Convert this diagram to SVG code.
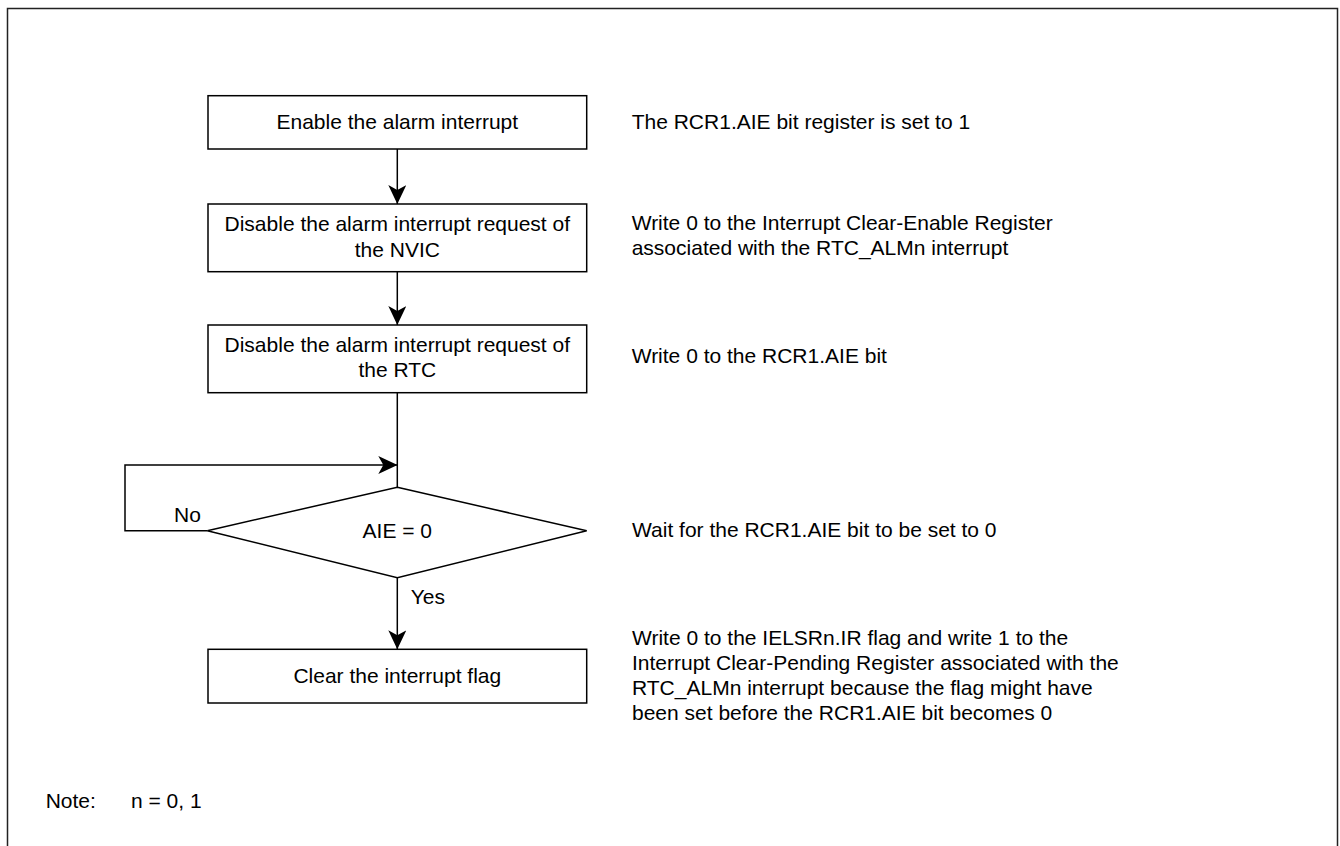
<svg xmlns="http://www.w3.org/2000/svg" width="1340" height="846" viewBox="0 0 1340 846">
<style>
text{font-family:"Liberation Sans",Arial,sans-serif;font-size:21px;fill:#000}
.c{text-anchor:middle}
.box{fill:#fff;stroke:#000;stroke-width:1.5}
.ln{fill:none;stroke:#000;stroke-width:1.5}
</style>
<defs>
<marker id="ah" markerWidth="19" markerHeight="18" refX="19" refY="9" orient="auto" markerUnits="userSpaceOnUse">
<path d="M0,0 L19,9 L0,18 L5,9 Z" fill="#000"/>
</marker>
</defs>
<rect x="0" y="0" width="1340" height="846" fill="#fff"/>
<rect x="7.5" y="8.5" width="1330" height="860" fill="none" stroke="#222" stroke-width="1.5"/>
<g id="connectors">
<line class="ln" x1="397.3" y1="149" x2="397.3" y2="204" marker-end="url(#ah)"/>
<line class="ln" x1="397.3" y1="271.7" x2="397.3" y2="325" marker-end="url(#ah)"/>
<line class="ln" x1="397.3" y1="392.7" x2="397.3" y2="487.3"/>
<polyline class="ln" points="207.3,530.7 125,530.7 125,465 397.3,465" marker-end="url(#ah)"/>
<line class="ln" x1="397.3" y1="577.7" x2="397.3" y2="649.3" marker-end="url(#ah)"/>
<text x="174" y="521.7">No</text>
<text x="410.7" y="604">Yes</text>
</g>
<g id="n1">
<rect class="box" x="208" y="95.7" width="378.7" height="53.3"/>
<text class="c" x="397.3" y="129">Enable the alarm interrupt</text>
</g>
<g id="n2">
<rect class="box" x="208" y="204" width="378.7" height="67.7"/>
<text class="c" x="397.3" y="230.7">Disable the alarm interrupt request of</text>
<text class="c" x="397.3" y="256.7">the NVIC</text>
</g>
<g id="n3">
<rect class="box" x="208" y="325" width="378.7" height="67.7"/>
<text class="c" x="397.3" y="351.7">Disable the alarm interrupt request of</text>
<text class="c" x="397.3" y="377.3">the RTC</text>
</g>
<g id="d1">
<polygon class="box" points="397.3,487.3 586.7,530.7 397.3,577.7 207.3,530.7"/>
<text class="c" x="397.3" y="538.3">AIE = 0</text>
</g>
<g id="n4">
<rect class="box" x="208" y="649.3" width="378.7" height="53.7"/>
<text class="c" x="397.3" y="683.3">Clear the interrupt flag</text>
</g>
<g id="notes">
<text x="631.7" y="129.3">The RCR1.AIE bit register is set to 1</text>
<text x="631.7" y="230">Write 0 to the Interrupt Clear-Enable Register</text>
<text x="631.7" y="255">associated with the RTC_ALMn interrupt</text>
<text x="631.7" y="362.7">Write 0 to the RCR1.AIE bit</text>
<text x="632" y="537">Wait for the RCR1.AIE bit to be set to 0</text>
<text x="632" y="645">Write 0 to the IELSRn.IR flag and write 1 to the</text>
<text x="632" y="670">Interrupt Clear-Pending Register associated with the</text>
<text x="632" y="695">RTC_ALMn interrupt because the flag might have</text>
<text x="632" y="720">been set before the RCR1.AIE bit becomes 0</text>
<text x="45.7" y="808">Note:</text>
<text x="131" y="808">n = 0, 1</text>
</g>
</svg>
